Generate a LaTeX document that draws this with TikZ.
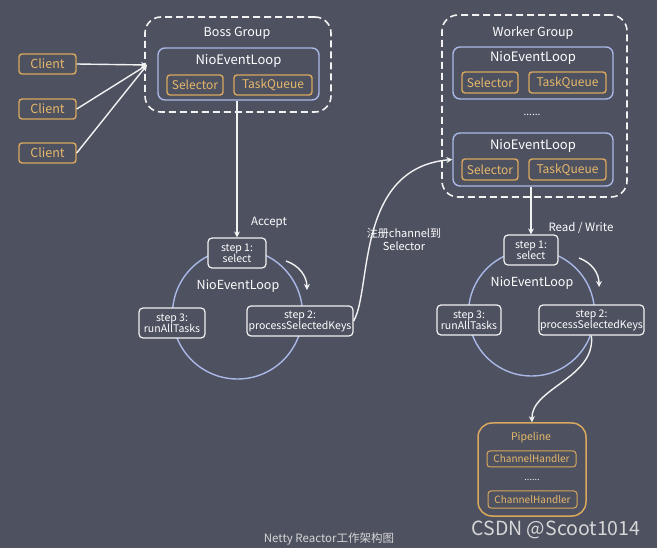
\documentclass[tikz,border=0pt]{standalone}
\usepackage{fontspec}
\setmainfont{Noto Sans CJK SC}
\usetikzlibrary{arrows.meta}
\definecolor{bg}{HTML}{4E5160}
\definecolor{gold}{HTML}{D9A85E}
\definecolor{goldtxt}{HTML}{E6B86A}
\definecolor{lblue}{HTML}{A9B8E6}
\definecolor{wline}{HTML}{F2F2F2}
\definecolor{ftxt}{HTML}{D6D6D6}
\tikzset{
  x=1pt,y=-1pt,
  arr/.style={draw=wline,line width=1.4pt,-{Stealth[length=6pt,width=6pt]}},
  goldbox/.style={draw=gold,line width=1.4pt,rounded corners=3pt,inner sep=0pt,text=goldtxt,font=\fontsize{12}{13}\selectfont},
  loopbox/.style={draw=lblue,line width=1.4pt,rounded corners=7pt,inner sep=0pt,minimum width=161,minimum height=52},
  groupbox/.style={draw=wline,line width=1.6pt,dash pattern=on 7pt off 4pt,rounded corners=16pt,inner sep=0pt},
  stepbox/.style={draw=wline,line width=1.2pt,rounded corners=4pt,fill=bg,inner sep=0pt,minimum height=30,text=white,align=center,font=\fontsize{10.5}{11}\selectfont},
  lbl/.style={text=white,inner sep=0pt,font=\fontsize{12.5}{14}\selectfont},
  loopcirc/.style={circle,draw=lblue,line width=1.4pt,inner sep=0pt},
}
\begin{document}
\begin{tikzpicture}
\fill[bg] (0,0) rectangle (657,548);
\useasboundingbox (0,0) rectangle (657,548);

% ---------- Boss group ----------
\node[groupbox,minimum width=186,minimum height=95] (boss) at (238,64.5) {};
\node[lbl] (bosslbl) at (237,33) {Boss Group};
\node[loopbox] (bloop) at (238.5,74) {};
\node[lbl,font=\fontsize{13}{14}\selectfont] (bloopl) at (238.5,61) {NioEventLoop};
\node[goldbox,minimum width=56,minimum height=20] (bsel) at (195,85) {Selector};
\node[goldbox,minimum width=78,minimum height=20] (btq) at (273,85) {TaskQueue};

% clients
\node[goldbox,minimum width=57,minimum height=20,font=\fontsize{12.5}{13}\selectfont] (c1) at (47.5,64) {Client};
\node[goldbox,minimum width=57,minimum height=20,font=\fontsize{12.5}{13}\selectfont] (c2) at (47.5,109) {Client};
\node[goldbox,minimum width=57,minimum height=20,font=\fontsize{12.5}{13}\selectfont] (c3) at (47.5,153) {Client};
\coordinate (bossin) at (147,65);
\draw[arr] (c1.east) -- (bossin);
\draw[arr] (c2.east) -- (bossin);
\draw[arr] (c3.east) -- (bossin);

% boss event loop cycle
\node[loopcirc,minimum size=130] (bcirc) at (237.5,314) {};
\node[lbl] (bcircl) at (238,286) {NioEventLoop};
\node[stepbox,minimum width=58] (bs1) at (237,253) {step 1:\\select};
\node[stepbox,minimum width=106] (bs2) at (300,321) {step 2:\\processSelectedKeys};
\node[stepbox,minimum width=66] (bs3) at (172,323) {step 3:\\runAllTasks};
\draw[arr] (bloop.south -| bs1.north) -- (bs1.north);
\node[lbl,font=\fontsize{11.5}{12}\selectfont] (accept) at (269,223) {Accept};
\coordinate (bca) at (286,261);
\coordinate (bcb) at (307,290);
\draw[arr] (bca) to[bend left=35] (bcb);

% ---------- Worker group ----------
\node[groupbox,minimum width=185,minimum height=182] (worker) at (534.5,106) {};
\node[lbl] (wlbl) at (533,33) {Worker Group};
\node[loopbox,minimum width=160] (wloop1) at (533,73) {};
\node[lbl,font=\fontsize{13}{14}\selectfont] (wl1) at (533,58) {NioEventLoop};
\node[goldbox,minimum width=56,minimum height=21] (wsel1) at (490,82.5) {Selector};
\node[goldbox,minimum width=77,minimum height=21] (wtq1) at (567.5,82.5) {TaskQueue};
\node[text=white,inner sep=0pt,font=\fontsize{10}{11}\selectfont] (wdots) at (532,115) {......};
\node[loopbox,minimum width=160,minimum height=53] (wloop2) at (533,159.5) {};
\node[lbl,font=\fontsize{13}{14}\selectfont] (wl2) at (533,146) {NioEventLoop};
\node[goldbox,minimum width=56,minimum height=21] (wsel2) at (490,169.5) {Selector};
\node[goldbox,minimum width=77,minimum height=21] (wtq2) at (567.5,169.5) {TaskQueue};

% worker event loop cycle
\node[loopcirc,minimum size=126] (wcirc) at (531.5,313) {};
\node[lbl] (wcircl) at (532,283) {NioEventLoop};
\node[stepbox,minimum width=54] (ws1) at (531,250) {step 1:\\select};
\node[stepbox,minimum width=105] (ws2) at (591.5,320) {step 2:\\processSelectedKeys};
\node[stepbox,minimum width=64] (ws3) at (469,320) {step 3:\\runAllTasks};
\draw[arr] (wloop2.south -| ws1.north) -- (ws1.north);
\node[lbl,font=\fontsize{11.5}{12}\selectfont] (rw) at (581,228) {Read / Write};
\coordinate (wca) at (579,258);
\coordinate (wcb) at (599,287);
\draw[arr] (wca) to[bend left=35] (wcb);

% register arrow
\draw[arr] (bs2.east) .. controls (372,290) and (355,168) .. (wloop2.west);
\node[text=white,inner sep=0pt,align=center,font=\fontsize{11}{13.5}\selectfont] (reg) at (404,239.5) {注册channel到\\Selector};

% pipeline
\node[draw=gold,line width=1.5pt,rounded corners=14pt,inner sep=0pt,minimum width=108,minimum height=93] (pipe) at (532,469.5) {};
\node[text=goldtxt,inner sep=0pt,font=\fontsize{10.5}{11}\selectfont] (pipel) at (531,438) {Pipeline};
\node[goldbox,line width=1pt,minimum width=89,minimum height=16,font=\fontsize{10}{10}\selectfont] (ch1) at (531.5,459) {ChannelHandler};
\node[text=white,inner sep=0pt,font=\fontsize{9}{10}\selectfont] (pdots) at (532,480) {......};
\node[goldbox,line width=1pt,minimum width=89,minimum height=17,font=\fontsize{10}{10}\selectfont] (ch2) at (532.5,499.5) {ChannelHandler};
\coordinate (ws2b) at ([xshift=53pt]ws2.south west);
\draw[arr] (ws2b) .. controls (596,378) and (531,388) .. (pipe.north);

% captions
\node[text=ftxt,inner sep=0pt,font=\fontsize{11.5}{12}\selectfont] (cap) at (329,539) {Netty Reactor工作架构图};
\node[text=ftxt,inner sep=0pt,font=\fontsize{19.5}{21}\selectfont] (csdn) at (556,530) {CSDN @Scoot1014};
\end{tikzpicture}
\end{document}
